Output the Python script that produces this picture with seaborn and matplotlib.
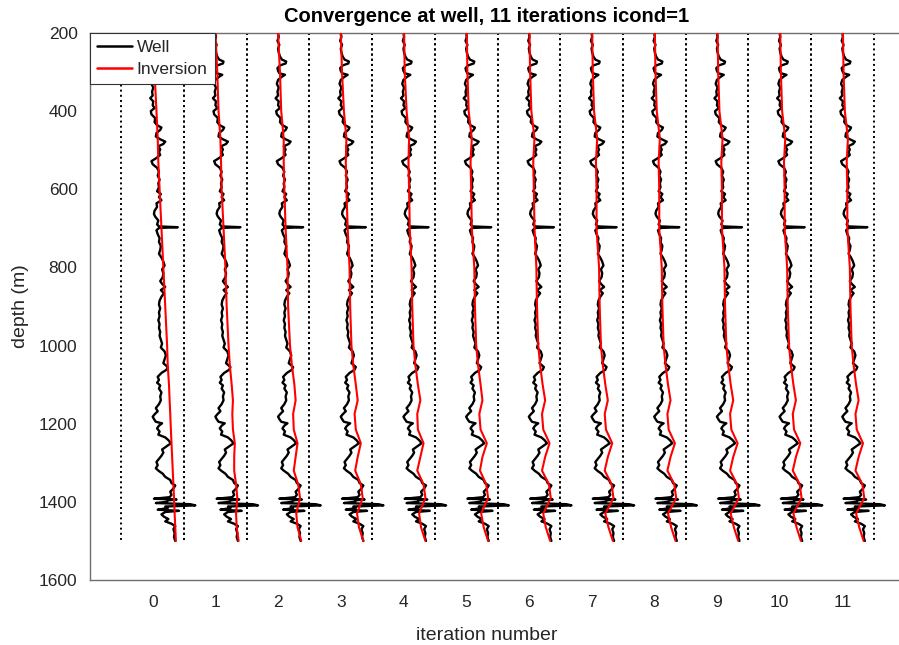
import numpy as np
import pandas as pd
import matplotlib
matplotlib.use("Agg")
import matplotlib.pyplot as plt
import seaborn as sns
from matplotlib.lines import Line2D

#%% DATA (values are offsets from the iteration position)
iterations = list(range(12))

well_depth = [200, 210, 220, 230, 240, 250, 260, 268, 273, 278, 283, 290, 297, 303, 307, 312,
              320, 330, 340, 350, 360, 367, 375, 385, 392, 400, 408, 418, 428, 436, 442, 448,
              456, 465, 472, 478, 484, 490, 498, 505, 512, 520, 528, 536, 545, 555, 565, 575,
              585, 595, 605, 612, 620, 628, 636, 645, 655, 663, 670, 680, 690, 695, 697, 699,
              705, 715, 725, 735, 745, 755, 765, 775, 785, 795, 805, 815, 825, 835, 842, 850,
              858, 866, 875, 885, 895, 905, 915, 925, 935, 945, 955, 965, 975, 985, 995, 1005,
              1015, 1025, 1035, 1045, 1055, 1062, 1070, 1080, 1088, 1095, 1102, 1110, 1120,
              1130, 1140, 1150, 1160, 1168, 1176, 1182, 1188, 1195, 1199, 1205, 1212, 1220,
              1228, 1235, 1242, 1250, 1258, 1266, 1274, 1282, 1290, 1298, 1306, 1314, 1320,
              1328, 1336, 1344, 1352, 1358, 1366, 1374, 1382, 1388, 1392, 1394, 1396, 1400,
              1403, 1406, 1409, 1412, 1416, 1420, 1423, 1426, 1432, 1438, 1444, 1450, 1456,
              1462, 1470, 1480, 1490, 1500]
well_value = [0.00, 0.01, -0.01, 0.02, 0.00, 0.01, 0.03, 0.06, 0.13, 0.12, 0.03, -0.01, 0.00, 0.02, 0.11, 0.06,
              0.00, -0.02, 0.01, -0.01, 0.00, -0.04, 0.01, 0.00, 0.03, -0.03, -0.02, 0.04, 0.03, 0.07, 0.14, 0.12,
              0.06, 0.05, 0.12, 0.20, 0.17, 0.09, 0.12, 0.10, 0.12, 0.06, -0.02, 0.00, 0.07, 0.10, 0.08, 0.11,
              0.09, 0.10, 0.07, 0.13, 0.10, 0.14, 0.06, 0.07, 0.03, 0.02, 0.04, 0.09, 0.07, 0.10, 0.40, 0.10,
              0.06, 0.08, 0.11, 0.10, 0.13, 0.12, 0.10, 0.14, 0.17, 0.19, 0.15, 0.17, 0.16, 0.12, 0.15, 0.20,
              0.13, 0.18, 0.14, 0.11, 0.10, 0.12, 0.10, 0.11, 0.09, 0.11, 0.10, 0.12, 0.11, 0.13, 0.15, 0.13,
              0.19, 0.21, 0.19, 0.17, 0.24, 0.22, 0.14, 0.08, 0.10, 0.07, 0.12, 0.10, 0.14,
              0.12, 0.13, 0.10, 0.05, 0.08, 0.03, 0.00, 0.02, 0.05, 0.15, 0.10, 0.07, 0.11,
              0.09, 0.20, 0.25, 0.29, 0.22, 0.15, 0.17, 0.14, 0.10, 0.06, 0.08, 0.05, 0.09,
              0.16, 0.20, 0.28, 0.30, 0.36, 0.33, 0.28, 0.30, 0.27, 0.02, 0.38, 0.25, 0.22,
              0.05, 0.60, 0.68, 0.20, 0.24, 0.08, 0.42, 0.20, 0.14, 0.18, 0.25, 0.20, 0.30,
              0.36, 0.33, 0.35, 0.34, 0.36]

inv_depth = [200, 300, 400, 470, 530, 600, 700, 800, 900, 1000, 1050, 1100, 1140, 1175,
             1215, 1250, 1285, 1320, 1355, 1390, 1430, 1465, 1500]
inversion = [
    [0.00, 0.03, 0.06, 0.08, 0.09, 0.11, 0.14, 0.17, 0.20, 0.23, 0.24, 0.26, 0.27, 0.28, 0.29, 0.30, 0.31, 0.32, 0.33, 0.34, 0.35, 0.36, 0.37],
    [0.00, 0.03, 0.05, 0.08, 0.09, 0.10, 0.13, 0.16, 0.18, 0.21, 0.23, 0.26, 0.28, 0.27, 0.28, 0.31, 0.30, 0.30, 0.33, 0.35, 0.33, 0.34, 0.37],
    [0.00, 0.03, 0.05, 0.09, 0.09, 0.10, 0.12, 0.15, 0.16, 0.19, 0.22, 0.26, 0.28, 0.24, 0.25, 0.31, 0.28, 0.25, 0.32, 0.35, 0.29, 0.31, 0.37],
    [0.00, 0.02, 0.05, 0.09, 0.08, 0.09, 0.11, 0.14, 0.15, 0.17, 0.20, 0.24, 0.27, 0.22, 0.24, 0.32, 0.27, 0.23, 0.32, 0.35, 0.26, 0.29, 0.36],
    [0.01, 0.02, 0.05, 0.09, 0.08, 0.09, 0.10, 0.13, 0.14, 0.16, 0.19, 0.23, 0.27, 0.22, 0.23, 0.32, 0.27, 0.22, 0.32, 0.35, 0.25, 0.28, 0.35],
    [0.01, 0.02, 0.04, 0.09, 0.07, 0.08, 0.09, 0.13, 0.14, 0.16, 0.19, 0.23, 0.26, 0.21, 0.23, 0.33, 0.26, 0.22, 0.32, 0.35, 0.24, 0.28, 0.35],
    [0.01, 0.02, 0.04, 0.09, 0.07, 0.08, 0.09, 0.12, 0.13, 0.15, 0.18, 0.22, 0.26, 0.21, 0.23, 0.33, 0.26, 0.21, 0.32, 0.35, 0.23, 0.27, 0.34],
    [0.01, 0.02, 0.04, 0.09, 0.07, 0.08, 0.08, 0.12, 0.13, 0.15, 0.18, 0.22, 0.26, 0.21, 0.23, 0.33, 0.26, 0.21, 0.32, 0.35, 0.22, 0.27, 0.34],
    [0.01, 0.02, 0.04, 0.09, 0.07, 0.08, 0.08, 0.12, 0.13, 0.15, 0.18, 0.22, 0.26, 0.21, 0.23, 0.33, 0.26, 0.21, 0.32, 0.35, 0.22, 0.27, 0.34],
    [0.01, 0.02, 0.04, 0.09, 0.07, 0.08, 0.08, 0.12, 0.13, 0.15, 0.18, 0.22, 0.26, 0.21, 0.23, 0.33, 0.26, 0.21, 0.32, 0.35, 0.22, 0.27, 0.34],
    [0.01, 0.02, 0.04, 0.09, 0.07, 0.08, 0.08, 0.12, 0.13, 0.15, 0.18, 0.22, 0.26, 0.21, 0.23, 0.33, 0.26, 0.21, 0.32, 0.35, 0.22, 0.27, 0.34],
    [0.01, 0.02, 0.04, 0.09, 0.07, 0.08, 0.08, 0.12, 0.13, 0.15, 0.18, 0.22, 0.26, 0.21, 0.23, 0.33, 0.26, 0.21, 0.32, 0.35, 0.22, 0.27, 0.34],
]

#%% LONG TABLES
well_df = pd.concat([
    pd.DataFrame({"iteration": it, "depth": well_depth, "x": np.array(well_value) + it})
    for it in iterations], ignore_index=True)
inv_df = pd.concat([
    pd.DataFrame({"iteration": it, "depth": inv_depth, "x": np.array(inversion[it]) + it})
    for it in iterations], ignore_index=True)

#%% STYLE
sns.set_theme(style="white")
plt.rcParams['font.family'] = ['Liberation Sans', 'DejaVu Sans']
axis_col = '#6e6e6e'
text_col = '#262626'

fig = plt.figure(figsize=(8.99, 6.45), dpi=100)
ax = fig.add_axes([90 / 899, 1 - 580 / 645, (905 - 90) / 899, (580 - 33) / 645])

# dotted separators
for it in iterations:
    for edge in (it - 0.5, it + 0.5):
        ax.plot([edge, edge], [200, 1500], color='black', linestyle=':', linewidth=1.4, zorder=1)

sns.lineplot(data=well_df, x="x", y="depth", units="iteration", estimator=None,
             sort=False, color='black', linewidth=1.7, ax=ax, zorder=2)
sns.lineplot(data=inv_df, x="x", y="depth", units="iteration", estimator=None,
             sort=False, color='red', linewidth=1.5, ax=ax, zorder=3)

ax.set_xlim(-1, 12)
ax.set_ylim(1600, 200)
ax.set_xticks(iterations)
ax.set_yticks(range(200, 1601, 200))
ax.tick_params(direction='in', length=4, width=0.8, colors=axis_col, labelcolor=text_col,
               labelsize=12.5, top=True, right=True)
ax.tick_params(axis='x', pad=11)
ax.tick_params(axis='y', pad=9)
for s in ax.spines.values():
    s.set_color(axis_col)
    s.set_linewidth(1.0)

ax.set_xlabel("iteration number", fontsize=14, color=text_col)
ax.set_ylabel("depth (m)", fontsize=14, color=text_col)
ax.xaxis.set_label_coords(0.487, -0.086)
ax.yaxis.set_label_coords(-0.075, 0.5)
ax.set_title("Convergence at well, 11 iterations icond=1", fontsize=14.5, fontweight='bold',
             color='black', x=0.487, pad=8)

handles = [Line2D([], [], color='black', linewidth=1.8), Line2D([], [], color='red', linewidth=1.8)]
leg = ax.legend(handles, ["Well", "Inversion"], loc='upper left', bbox_to_anchor=(0, 1),
                borderaxespad=0, fontsize=12.5, frameon=True, fancybox=False, framealpha=1,
                handlelength=2.0, handletextpad=0.3, borderpad=0.4, labelspacing=0.4)
leg.get_frame().set_edgecolor('#333333')
leg.get_frame().set_linewidth(0.8)
leg.set_zorder(10)

fig.savefig("out.png", dpi=100)
